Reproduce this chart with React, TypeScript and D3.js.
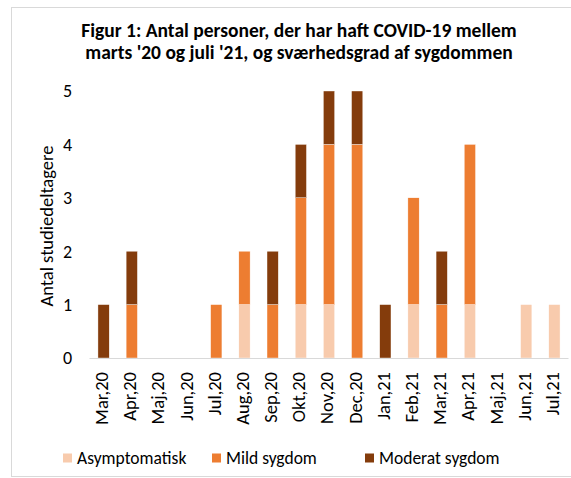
import * as d3 from 'd3';

const months = [
  'Mar,20', 'Apr,20', 'Maj,20', 'Jun,20', 'Jul,20', 'Aug,20', 'Sep,20', 'Okt,20', 'Nov,20',
  'Dec,20', 'Jan,21', 'Feb,21', 'Mar,21', 'Apr,21', 'Maj,21', 'Jun,21', 'Jul,21',
];
const asymptomatisk = [0, 0, 0, 0, 0, 1, 0, 1, 1, 0, 0, 1, 0, 1, 0, 1, 1];
const mild = [0, 1, 0, 0, 1, 1, 1, 2, 3, 4, 0, 2, 1, 3, 0, 0, 0];
const moderat = [1, 1, 0, 0, 0, 0, 1, 1, 1, 1, 1, 0, 1, 0, 0, 0, 0];
const yTicks = [0, 1, 2, 3, 4, 5];

const seriesNames = ['Asymptomatisk', 'Mild sygdom', 'Moderat sygdom'];
const colors = ['#F8CBAD', '#ED7D31', '#843C0C'];

const width = 571;
const height = 478;
const font = 'Calibri, Carlito, Lato, "Noto Sans", sans-serif';

export default function App() {
  const rows = months.map((m, i) => ({
    month: m,
    'Asymptomatisk': asymptomatisk[i],
    'Mild sygdom': mild[i],
    'Moderat sygdom': moderat[i],
  }));
  const stacked = d3.stack<any>().keys(seriesNames)(rows);

  const x = d3.scaleBand().domain(months).range([89.5, 568.5]).paddingInner(0.6).paddingOuter(0.3);
  const y = d3.scaleLinear().domain([0, 5]).range([358, 91]);

  const legendX = [63, 212, 365];

  return (
    <svg
      width={width}
      height={height}
      style={{ position: 'absolute', left: 0, top: 0, background: '#fff' }}
      fontFamily={font}
    >
      <rect x={11.5} y={7.5} width={width} height={469} fill="#fff" stroke="#d9d9d9" />
      <text x={299} y={37} textAnchor="middle" fontSize={19.5} fontWeight="bold" fill="#000">
        Figur 1: Antal personer, der har haft COVID-19 mellem
      </text>
      <text x={299} y={59} textAnchor="middle" fontSize={19.5} fontWeight="bold" fill="#000">
        marts '20 og juli '21, og sværhedsgrad af sygdommen
      </text>

      {/* y axis labels */}
      {yTicks.map((t) => (
        <text key={t} x={72} y={y(t)} dy="0.35em" textAnchor="end" fontSize={18} fill="#000">
          {t}
        </text>
      ))}
      <text
        transform={`translate(47,226) rotate(-90)`}
        textAnchor="middle"
        dy="0.35em"
        fontSize={18.5}
        fill="#000"
      >
        Antal studiedeltagere
      </text>

      {/* bars */}
      {stacked.map((s, si) => (
        <g key={s.key} fill={colors[si]}>
          {s.map((d, i) =>
            d[1] - d[0] > 0 ? (
              <rect
                key={i}
                x={x(months[i])}
                y={y(d[1])}
                width={x.bandwidth()}
                height={y(d[0]) - y(d[1])}
                stroke="#fff"
                strokeWidth={0.4}
              />
            ) : null
          )}
        </g>
      ))}

      {/* x axis */}
      <line x1={89.5} x2={568.5} y1={358.5} y2={358.5} stroke="#d9d9d9" strokeWidth={1.2} />
      {months.map((m) => (
        <text
          key={m}
          transform={`translate(${x(m)! + x.bandwidth() / 2 - 2},372) rotate(-90)`}
          textAnchor="end"
          dy="0.35em"
          fontSize={18.5}
          fill="#000"
        >
          {m}
        </text>
      ))}

      {/* legend */}
      {seriesNames.map((n, i) => (
        <g key={n} transform={`translate(${legendX[i]},458)`}>
          <rect x={0} y={-4.5} width={9} height={9} fill={colors[i]} />
          <text x={14} dy="0.35em" fontSize={17.5} fill="#000">
            {n}
          </text>
        </g>
      ))}
    </svg>
  );
}
